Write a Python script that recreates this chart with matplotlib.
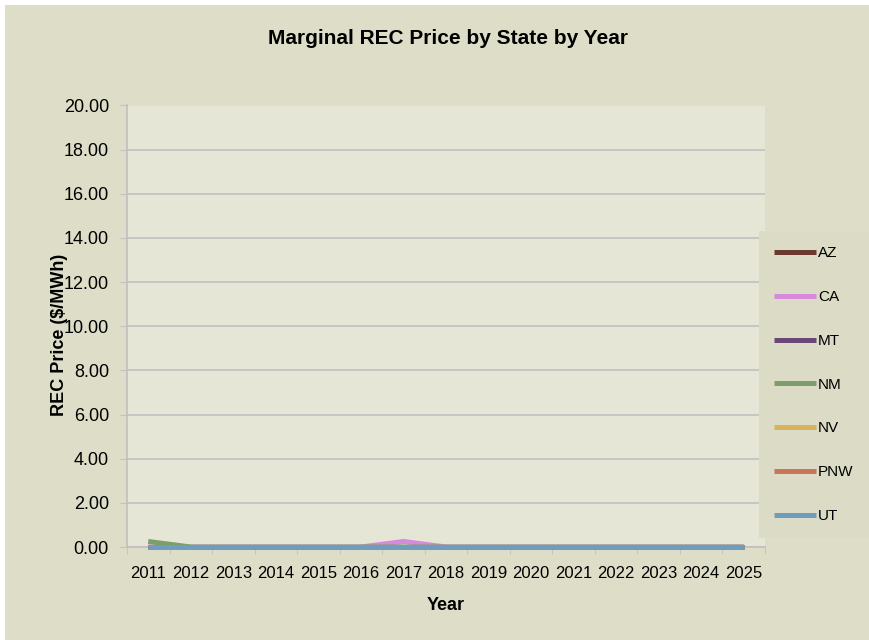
import matplotlib
matplotlib.use("Agg")
import matplotlib.pyplot as plt
from matplotlib.patches import Rectangle

plt.rcParams['font.family'] = ['Liberation Sans', 'DejaVu Sans']

years = [str(y) for y in range(2011, 2026)]
states = ['AZ', 'CA', 'MT', 'NM', 'NV', 'PNW', 'UT']
colors = ['#6B3A2E', '#D68ADB', '#6A4777', '#7C9E6B', '#D8B25C', '#C8755A', '#6E9DC0']

az = [0.0] * 15
ca = [0, 0, 0, 0, 0, 0, 0.25, 0, 0, 0, 0, 0, 0, 0, 0]
mt = [0.0] * 15
nm = [0.25, 0, 0, 0, 0, 0, 0, 0, 0, 0, 0, 0, 0, 0, 0]
nv = [0.0] * 15
pnw = [0.0] * 15
ut = [0.0] * 15
series = [az, ca, mt, nm, nv, pnw, ut]

yticks = [0, 2, 4, 6, 8, 10, 12, 14, 16, 18, 20]

fig = plt.figure(figsize=(8.7, 6.4), dpi=100, facecolor='white')
# beige chart area, white strip on top and left like the export
fig.patches.append(Rectangle((5 / 870, 0), 865 / 870, 635 / 640, transform=fig.transFigure,
                             facecolor='#DEDEC8', edgecolor='none', zorder=-5))

ax = fig.add_axes([127 / 870, 93 / 640, 638 / 870, 441.5 / 640])
ax.set_facecolor('#E6E6D6')

x = list(range(len(years)))
for name, vals, c in zip(states, series, colors):
    ax.plot(x, vals, color=c, lw=3.6, label=name, solid_capstyle='butt', clip_on=False, zorder=3)

ax.set_xlim(-0.5, len(years) - 0.5)
ax.set_ylim(0, 20)
ax.set_yticks(yticks)
ax.set_yticklabels([f"{v:.2f}" for v in yticks], fontsize=13)
ax.set_xticks(x)
ax.set_xticklabels(years, fontsize=12)
ax.set_xticks([i - 0.5 for i in range(len(years) + 1)], minor=True)
ax.tick_params(axis='x', which='major', length=0, pad=14)
ax.tick_params(axis='x', which='minor', length=5, color='#BFBFBF')
ax.tick_params(axis='y', length=5, color='#BFBFBF', pad=8)
ax.grid(axis='y', color='#C0C0C0', lw=1.2)
ax.set_axisbelow(True)
for s in ['top', 'right']:
    ax.spines[s].set_visible(False)
for s in ['left', 'bottom']:
    ax.spines[s].set_color('#BFBFBF')
    ax.spines[s].set_linewidth(1.2)

ax.set_xlabel('Year', fontsize=13, fontweight='bold')
ax.xaxis.set_label_coords(0.5, -(597 - 547) / 441.5)
ax.set_ylabel('REC Price ($/MWh)', fontsize=13, fontweight='bold')
ax.yaxis.set_label_coords((68 - 127) / 638, 0.48)
fig.suptitle('Marginal REC Price by State by Year', x=0.515, y=0.955, fontsize=15, fontweight='bold')

leg = fig.legend(loc='upper left', bbox_to_anchor=(759 / 870, 1 - 231 / 640), frameon=True,
                 fontsize=11, handlelength=2.7, handletextpad=0.15, labelspacing=1.95,
                 borderpad=1.0, borderaxespad=0)
leg.get_frame().set_facecolor('#DCDCC6')
leg.get_frame().set_edgecolor('none')
leg.get_frame().set_alpha(1)
leg.get_frame().set_boxstyle('square', pad=0)
for line in leg.get_lines():
    line.set_linewidth(3.6)

fig.savefig('out.png', dpi=100, facecolor='white')
